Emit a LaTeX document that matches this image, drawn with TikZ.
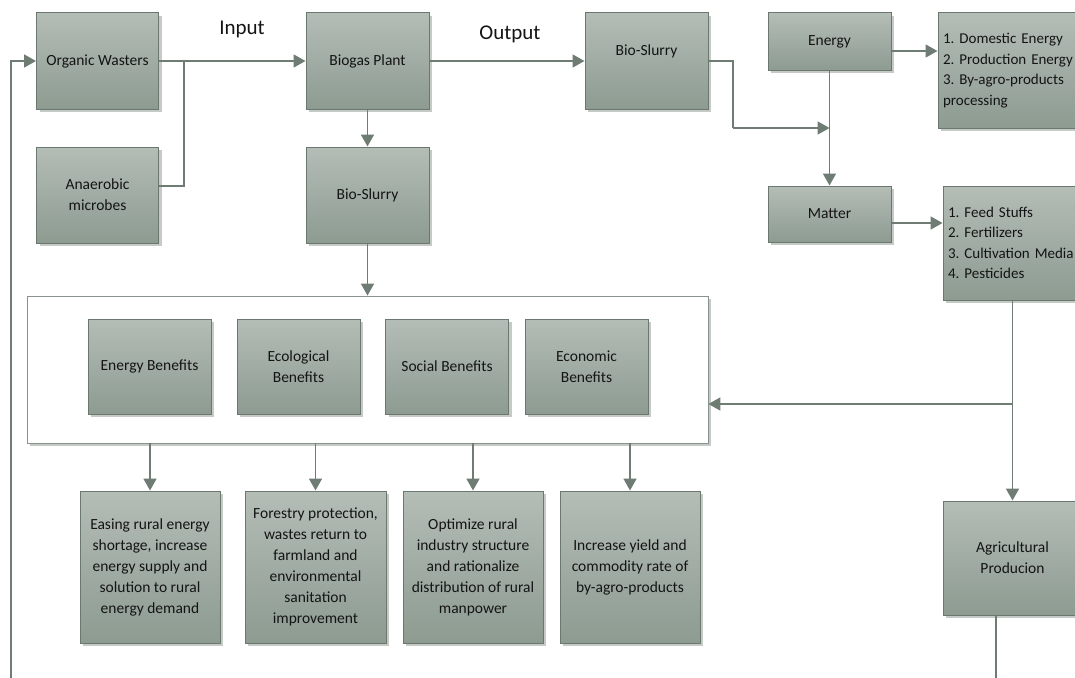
\documentclass[tikz,border=0pt]{standalone}
\usepackage{fontspec}
\setmainfont{Carlito}
\usetikzlibrary{arrows.meta,shadows,calc}
\definecolor{boxtop}{HTML}{B4BDB6}
\definecolor{boxbot}{HTML}{8D9B91}
\definecolor{edgec}{HTML}{6B7870}
\definecolor{shad}{HTML}{C6CAC7}
\definecolor{linec}{HTML}{6E7C74}
\definecolor{txt}{HTML}{141414}
\frenchspacing
\begin{document}
\begin{tikzpicture}[x=1pt,y=-1pt,
  gbox/.style={draw=edgec, line width=1pt, top color=boxtop, bottom color=boxbot,
    drop shadow={shadow xshift=3pt, shadow yshift=-3pt, fill=shad, opacity=1},
    font=\fontsize{15.5}{21}\selectfont, align=center, inner sep=3pt, text=txt},
  listbox/.style={gbox, align=left, text width=160, font=\fontsize{15}{20.5}\selectfont},
  bigbox/.style={draw=edgec!80, line width=0.8pt, fill=white,
    drop shadow={shadow xshift=3pt, shadow yshift=-3pt, fill=shad, opacity=1}},
  bsize/.style 2 args={minimum width=#1, minimum height=#2},
  conn/.style={draw=linec, line width=1.8pt},
  arr/.style={conn, -{Triangle[length=12pt,width=13pt]}},
  lbl/.style={font=\fontsize{21}{24}\selectfont, text=txt, anchor=base}
]
\useasboundingbox (0,0) rectangle (1075,677);
\clip (0,0) rectangle (1075,677);

% top row
\node[gbox,bsize={122}{96}] (ow) at (97.5,61) {Organic Wasters};
\node[gbox,bsize={122}{96}] (am) at (97.5,195) {Anaerobic\\microbes};
\node[gbox,bsize={123}{96}] (bp) at (367.5,61) {Biogas Plant};
\node[gbox,bsize={123}{96}] (bs2) at (367.5,195) {Bio-Slurry};
\node[gbox,bsize={123}{96}] (bs1) at (646.5,61) {Bio-Slurry\\\mbox{}};
\node[gbox,bsize={123}{57}] (en) at (829.5,41.5) {Energy};
\node[gbox,bsize={123}{56}] (mt) at (829.5,214) {Matter};
\node[listbox,bsize={170}{115},inner xsep=5pt] (dom) at (1023,70.5)
  {1. Domestic Energy\\2. Production Energy\\3. By-agro-products\\processing};
\node[listbox,bsize={170}{114},inner xsep=4pt] (fd) at (1028,243)
  {1. Feed Stuffs\\2. Fertilizers\\3. Cultivation Media\\4. Pesticides};
\node[gbox,bsize={139}{114}] (ag) at (1012.5,558) {Agricultural\\Producion};

\node[lbl] (inp) at (242,35) {Input};
\node[lbl] (outp) at (510,40) {Output};

% benefits container
\node[bigbox,bsize={681}{147}] (big) at (367.5,369.5) {};
\node[gbox,bsize={123}{95}] (b1) at (149.5,366.5) {Energy Benefits};
\node[gbox,bsize={123}{95}] (b2) at (298.5,366.5) {Ecological\\Benefits};
\node[gbox,bsize={123}{95}] (b3) at (447,366.5) {Social Benefits};
\node[gbox,bsize={123}{95}] (b4) at (586.5,366.5) {Economic\\Benefits};

% bottom row
\node[gbox,bsize={140}{152}] (e1) at (150,567) {Easing rural energy\\shortage, increase\\energy supply and\\solution to rural\\energy demand};
\node[gbox,bsize={141}{152}] (e2) at (315.5,567) {Forestry protection,\\wastes return to\\farmland and\\environmental\\sanitation\\improvement};
\node[gbox,bsize={140}{152}] (e3) at (473,567) {Optimize rural\\industry structure\\and rationalize\\distribution of rural\\manpower};
\node[gbox,bsize={140}{152}] (e4) at (630,567) {Increase yield and\\commodity rate of\\by-agro-products};

% coordinates
\coordinate (j1) at (184,61);
\coordinate (k1) at (733,0);
\coordinate (lvl) at (0,128);
\coordinate (j2) at (en.south |- lvl);
\coordinate (j3) at (ag.north |- 0,404);
\coordinate (fb) at (11,690);
\coordinate (agb) at (996,690);

% connectors
\draw[arr] (ow.east) -- (bp.west);
\draw[conn] ([yshift=9pt]am.east) -| (j1);
\draw[arr] (bp.south) -- (bs2.north);
\draw[arr] (bs2.south) -- (big.north);
\draw[arr] (bp.east) -- (bs1.west);
\draw[conn] (bs1.east) -| (k1 |- lvl);
\draw[arr] (k1 |- lvl) -- (j2);
\draw[arr] (en.south) -- (mt.north);
\draw[arr] ([yshift=-9.5pt]en.east) -- ([yshift=-9.5pt]en.east -| dom.west);
\draw[arr] ([yshift=-9pt]mt.east) -- ([yshift=-9pt]mt.east -| fd.west);
\draw[arr] (fd.south -| ag.north) -- (ag.north);
\draw[arr] (j3) -- (j3 -| big.east);
\draw[conn] (agb |- ag.south) -- (agb);
\draw[arr] (fb) |- (ow.west);
\draw[arr] (big.south -| e1.north) -- (e1.north);
\draw[arr] (big.south -| e2.north) -- (e2.north);
\draw[arr] (big.south -| e3.north) -- (e3.north);
\draw[arr] (big.south -| e4.north) -- (e4.north);
\end{tikzpicture}
\end{document}
